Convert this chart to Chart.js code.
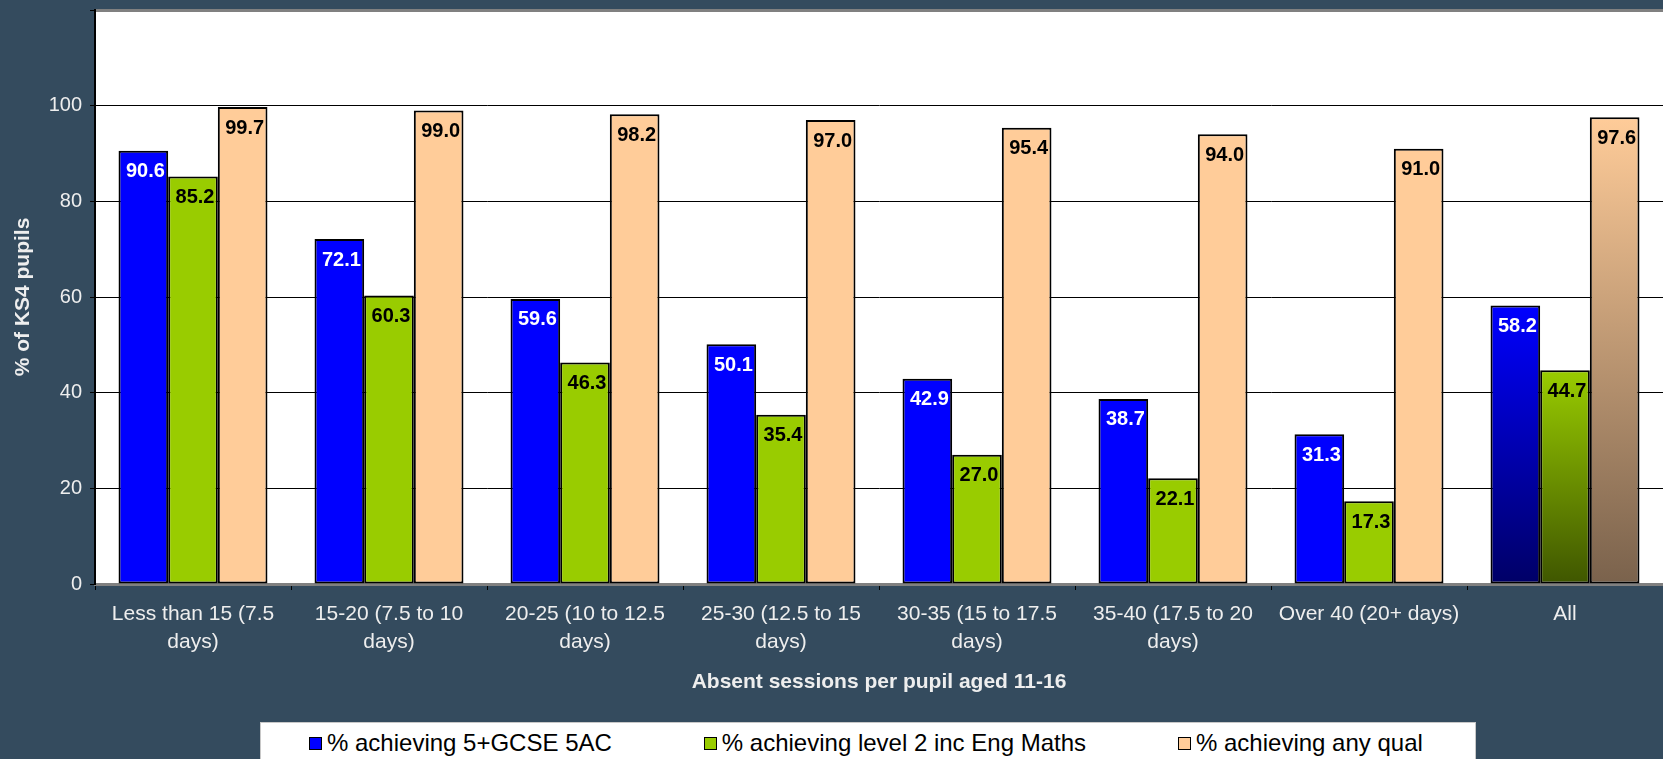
<!DOCTYPE html>
<html>
<head>
<meta charset="utf-8">
<title>KS4 attainment by absence</title>
<script src="https://cdn.jsdelivr.net/npm/chart.js@4.4.1/dist/chart.umd.min.js"></script>
<style>
    html, body { margin: 0; padding: 0; background: #344B5E; }
    #wrap { position: relative; width: 1663px; height: 759px; overflow: hidden; }
    #legend {
        position: absolute; left: 260px; top: 722px; width: 1216px; height: 45px;
        background: #fff; border: 1px solid #c8c8c8; box-sizing: border-box;
        display: flex; align-items: flex-start; padding: 6px 0 0 48px; gap: 92px;
        font: 24px "Liberation Sans", Arial, sans-serif; color: #000;
    }
    .legend-item { display: flex; align-items: center; white-space: nowrap; line-height: 28px; }
    .legend-box { width: 11px; height: 11px; border: 1px solid #000; margin-right: 5px; }
</style>
</head>
<body>
<div id="wrap">
    <canvas id="absenceChart" width="1663" height="759"></canvas>
    <div id="legend"></div>
</div>
<script>
const categories = [
    ['Less than 15 (7.5', 'days)'],
    ['15-20 (7.5 to 10', 'days)'],
    ['20-25 (10 to 12.5', 'days)'],
    ['25-30 (12.5 to 15', 'days)'],
    ['30-35 (15 to 17.5', 'days)'],
    ['35-40 (17.5 to 20', 'days)'],
    'Over 40 (20+ days)',
    'All'
];
const gcse5ac = [90.6, 72.1, 59.6, 50.1, 42.9, 38.7, 31.3, 58.2];
const level2EngMaths = [85.2, 60.3, 46.3, 35.4, 27.0, 22.1, 17.3, 44.7];
const anyQual = [99.7, 99.0, 98.2, 97.0, 95.4, 94.0, 91.0, 97.6];
const seriesNames = ['% achieving 5+GCSE 5AC', '% achieving level 2 inc Eng Maths', '% achieving any qual'];
const yTickValues = [0, 20, 40, 60, 80, 100, 120];

const seriesColors = ['#0000FF', '#99CC00', '#FFCC99'];
const seriesDark = ['#000066', '#3F5600', '#7A624C'];
const labelColors = ['#FFFFFF', '#000000', '#000000'];
const fontFamily = '"Liberation Sans", Arial, sans-serif';
const textColor = '#EEEEEE';

// the "All" group is drawn with a top-to-bottom gradient
function barFill(i) {
    return function(ctx) {
        if (ctx.type !== 'data' || ctx.dataIndex !== categories.length - 1) return seriesColors[i];
        const chart = ctx.chart;
        const yScale = chart.scales.y;
        if (!chart.chartArea || !yScale) return seriesColors[i];
        const top = yScale.getPixelForValue(ctx.raw);
        const bottom = yScale.getPixelForValue(0);
        const g = chart.ctx.createLinearGradient(0, top, 0, bottom);
        g.addColorStop(0, seriesColors[i]);
        g.addColorStop(1, seriesDark[i]);
        return g;
    };
}

const plotFrame = {
    id: 'plotFrame',
    beforeDraw(chart) {
        const { ctx, chartArea: a } = chart;
        ctx.save();
        ctx.fillStyle = '#FFFFFF';
        ctx.fillRect(a.left, a.top, a.right - a.left, a.bottom - a.top);
        ctx.fillStyle = '#808080';
        ctx.fillRect(a.left, a.top - 1, a.right - a.left, 3);
        ctx.restore();
    }
};

const barLabels = {
    id: 'barLabels',
    afterDatasetsDraw(chart) {
        const ctx = chart.ctx;
        ctx.save();
        ctx.font = 'bold 20px ' + fontFamily;
        ctx.textAlign = 'center';
        ctx.textBaseline = 'middle';
        chart.data.datasets.forEach((ds, di) => {
            chart.getDatasetMeta(di).data.forEach((bar, i) => {
                ctx.fillStyle = labelColors[di];
                ctx.fillText(ds.data[i].toFixed(1), bar.x + 2, bar.y + 21);
            });
        });
        ctx.restore();
    }
};

const seriesData = [gcse5ac, level2EngMaths, anyQual];

const chart = new Chart(document.getElementById('absenceChart'), {
    type: 'bar',
    data: {
        labels: categories,
        datasets: seriesData.map((d, i) => ({
            label: seriesNames[i],
            data: d,
            backgroundColor: barFill(i),
            borderColor: '#000000',
            borderWidth: 2,
            borderSkipped: false
        }))
    },
    options: {
        responsive: false,
        animation: false,
        layout: { padding: { top: 10, right: 0, bottom: 59, left: 0 } },
        datasets: { bar: { categoryPercentage: 0.76, barPercentage: 1 } },
        plugins: {
            legend: { display: false },
            tooltip: { enabled: false }
        },
        scales: {
            x: {
                grid: { display: true, drawOnChartArea: false, offset: true, tickLength: 6, tickColor: '#000000' },
                border: { color: '#808080', width: 3 },
                ticks: {
                    color: textColor,
                    font: { size: 21, family: fontFamily, lineHeight: 1.3 },
                    padding: 11,
                    maxRotation: 0,
                    autoSkip: false
                },
                title: {
                    display: true,
                    text: 'Absent sessions per pupil aged 11-16',
                    color: textColor,
                    font: { size: 21, weight: 'bold', family: fontFamily },
                    padding: { top: 0, bottom: 5 }
                },
                afterFit(scale) { scale.height = 116; }
            },
            y: {
                min: 0,
                max: 120,
                afterBuildTicks(scale) { scale.ticks = yTickValues.map(v => ({ value: v })); },
                ticks: {
                    color: textColor,
                    font: { size: 20, family: fontFamily },
                    padding: 8,
                    callback: v => (v === 120 ? '' : v)
                },
                grid: {
                    color: c => (c.tick && c.tick.value > 0 && c.tick.value < 120 ? '#000000' : 'rgba(0,0,0,0)'),
                    tickColor: '#000000',
                    tickLength: 5,
                    lineWidth: 1
                },
                border: { color: '#000000', width: 2 },
                title: {
                    display: true,
                    text: '% of KS4 pupils',
                    color: textColor,
                    font: { size: 21, weight: 'bold', family: fontFamily },
                    padding: { top: 11, bottom: 0 }
                },
                afterFit(scale) {
                    scale.width = 95;
                    scale.paddingTop = 0;
                    scale.paddingBottom = 0;
                }
            }
        }
    },
    plugins: [plotFrame, barLabels]
});

// legend as html, boxed like the original
const legendEl = document.getElementById('legend');
chart.data.datasets.forEach((ds, i) => {
    const item = document.createElement('div');
    item.className = 'legend-item';
    const box = document.createElement('span');
    box.className = 'legend-box';
    box.style.background = seriesColors[i];
    const txt = document.createElement('span');
    txt.textContent = ds.label;
    item.appendChild(box);
    item.appendChild(txt);
    legendEl.appendChild(item);
});
</script>
</body>
</html>
